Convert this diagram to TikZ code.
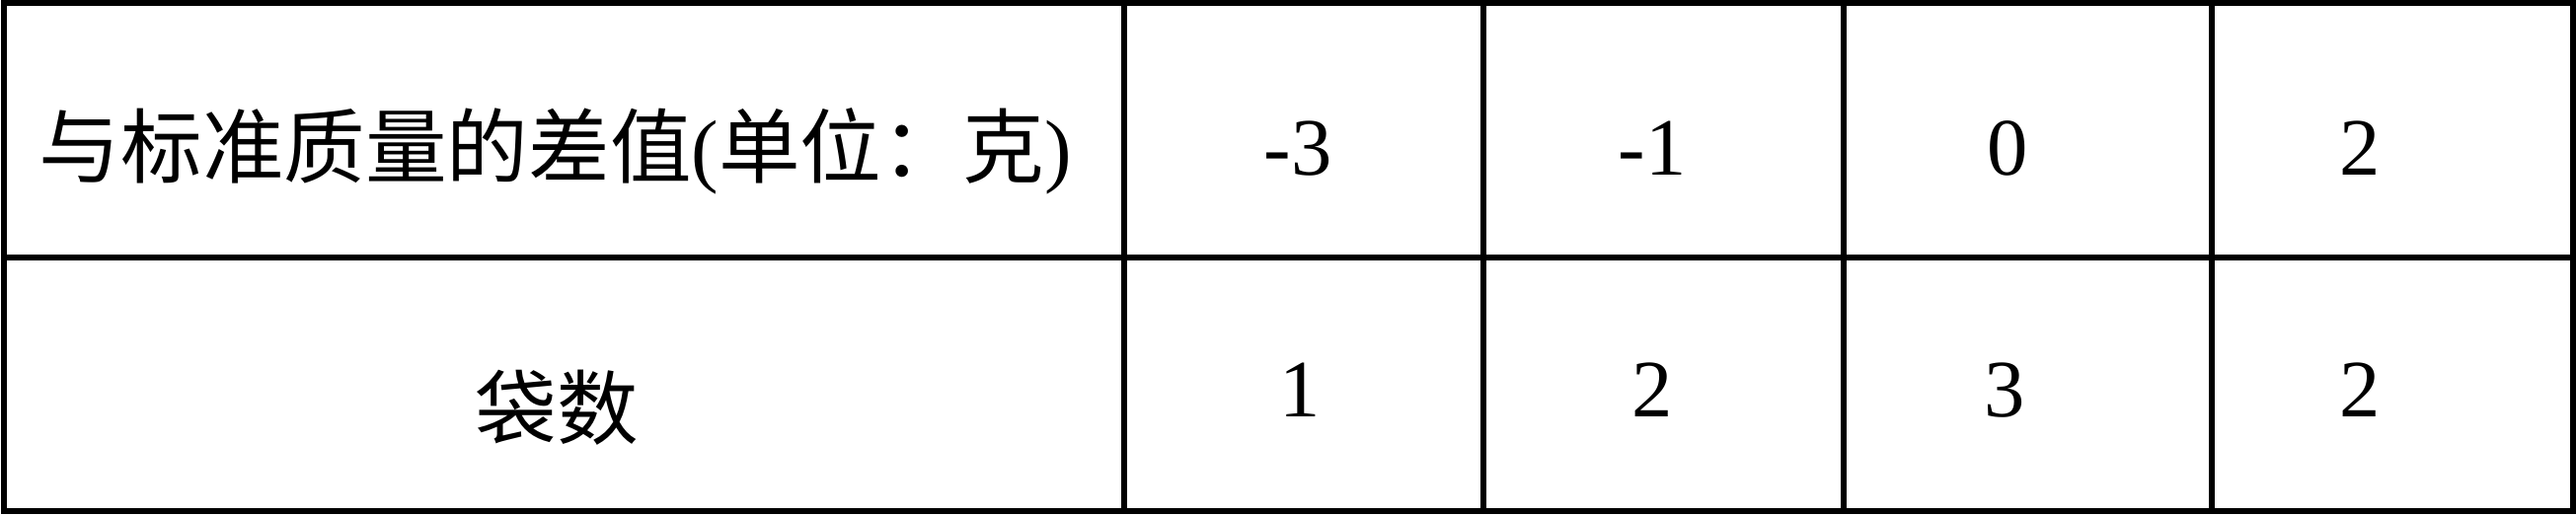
\documentclass[tikz,border=0pt]{standalone}
\usepackage{fontspec}
\setmainfont{Liberation Serif}
\newfontfamily\cjk{Noto Sans CJK SC}
\usepackage{tikz}
\usetikzlibrary{positioning}

\tikzset{
  rule/.style={line width=1.5pt, color=black},
  cell/.style={anchor=base, inner sep=0pt, font=\fontsize{23.5}{28}\selectfont}
}

\begin{document}
\begin{tikzpicture}
  \useasboundingbox (0,0) rectangle (26.1,5.23);
  \draw[rule] (0.04,0.05) rectangle (26.07,5.20);
  \draw[rule] (0.04,2.62) -- (26.07,2.62);
  \draw[rule] (11.39,0.05) -- (11.39,5.20);
  \draw[rule] (15.03,0.05) -- (15.03,5.20);
  \draw[rule] (18.68,0.05) -- (18.68,5.20);
  \draw[rule] (22.41,0.05) -- (22.41,5.20);

  \node[cell] (diff) at (5.63, 3.43) {{\cjk 与标准质量的差值}({\cjk 单位：克})};
  \node[cell] (d1) at (13.15, 3.45) {-3};
  \node[cell] (d2) at (16.74, 3.45) {-1};
  \node[cell] (d3) at (20.34, 3.45) {0};
  \node[cell] (d4) at (23.91, 3.45) {2};

  \node[cell] (bags) at (5.64, 0.78) {\cjk 袋数};
  \node[cell] (n1) at (13.17, 1.00) {1};
  \node[cell] (n2) at (16.74, 1.00) {2};
  \node[cell] (n3) at (20.31, 1.00) {3};
  \node[cell] (n4) at (23.91, 1.00) {2};
\end{tikzpicture}
\end{document}
